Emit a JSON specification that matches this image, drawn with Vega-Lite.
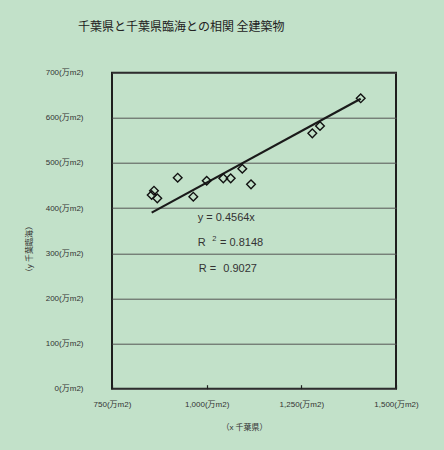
{
  "$schema": "https://vega.github.io/schema/vega-lite/v6.json",
  "width": 284,
  "height": 316,
  "autosize": {"type": "none"},
  "padding": {"left": 112, "top": 72.7, "right": 48, "bottom": 61.3},
  "background": "#c2e1c9",
  "config": {
    "view": {"stroke": "#1e1e1e", "strokeWidth": 2, "fill": "#c2e1c9"},
    "font": "'Liberation Sans', 'Noto Sans CJK JP', sans-serif"
  },
  "title": {
    "text": "千葉県と千葉県臨海との相関  全建築物",
    "anchor": "start",
    "frame": "group",
    "dx": -34,
    "offset": 30,
    "baseline": "middle",
    "fontSize": 12,
    "fontWeight": "normal",
    "color": "#222222",
    "font": "'Noto Sans CJK JP', sans-serif"
  },
  "datasets": {
    "pts": [
      {"x": 1406.8, "y": 643.3},
      {"x": 1299.3, "y": 581.9},
      {"x": 1279.0, "y": 565.7},
      {"x": 1094.1, "y": 487.3},
      {"x": 1117.1, "y": 452.7},
      {"x": 1063.5, "y": 466.0},
      {"x": 1043.9, "y": 466.0},
      {"x": 1000.1, "y": 460.7},
      {"x": 923.5, "y": 467.4},
      {"x": 964.7, "y": 425.3},
      {"x": 860.9, "y": 438.6},
      {"x": 854.8, "y": 429.0},
      {"x": 869.6, "y": 421.7}
    ],
    "trend": [
      {"x": 854.8, "y": 390.1},
      {"x": 1406.8, "y": 642.1}
    ],
    "notes": [
      {"x": 976.3, "y": 378.8, "label": "y = 0.4564x"},
      {"x": 976.3, "y": 322.0, "label": "R"},
      {"x": 1035.2, "y": 322.0, "label": "= 0.8148"},
      {"x": 979.0, "y": 265.1, "label": "R ="},
      {"x": 1044.0, "y": 265.1, "label": "0.9027"}
    ],
    "sup": [
      {"x": 1014.9, "y": 330.9, "label": "2"}
    ]
  },
  "layer": [
    {
      "data": {"name": "trend"},
      "mark": {"type": "line", "color": "#1a1a1a", "strokeWidth": 2.2},
      "encoding": {
        "x": {
          "field": "x", "type": "quantitative",
          "scale": {"domain": [750, 1500], "nice": false, "zero": false},
          "axis": {
            "values": [750, 1000, 1250, 1500],
            "labelExpr": "format(datum.value, ',') + '(万m2)'",
            "grid": false,
            "domain": false,
            "ticks": true,
            "tickSize": -4,
            "tickColor": "#222222",
            "tickWidth": 1.2,
            "labelPadding": 16,
            "labelFontSize": 8,
            "labelColor": "#333333",
            "labelDx": -10,
            "labelOverlap": false,
            "labelFlush": false,
            "title": "（x 千葉県）",
            "titleFontSize": 8,
            "titleFontWeight": "normal",
            "titleColor": "#333333",
            "titleX": 132,
            "titleY": 38.5,
            "titleBaseline": "middle",
            "titleAlign": "center"
          }
        },
        "y": {
          "field": "y", "type": "quantitative",
          "scale": {"domain": [0, 700], "nice": false, "zero": false},
          "axis": {
            "values": [0, 100, 200, 300, 400, 500, 600, 700],
            "labelExpr": "format(datum.value, ',') + '(万m2)'",
            "grid": true,
            "gridColor": "#555555",
            "gridWidth": 1,
            "gridOpacity": 1,
            "domain": false,
            "ticks": false,
            "labelPadding": 29,
            "labelFontSize": 8,
            "labelColor": "#333333",
            "labelOverlap": false,
            "labelFlush": false,
            "title": "（y 千葉臨海）",
            "titleFontSize": 8,
            "titleFontWeight": "normal",
            "titleColor": "#333333",
            "titleX": -83,
            "titleY": 176,
            "titleAngle": -90,
            "titleBaseline": "middle",
            "titleAlign": "center"
          }
        }
      }
    },
    {
      "data": {"name": "pts"},
      "mark": {"type": "point", "shape": "diamond", "filled": false, "stroke": "#111111", "strokeWidth": 1.4, "size": 75, "opacity": 1},
      "encoding": {
        "x": {"field": "x", "type": "quantitative"},
        "y": {"field": "y", "type": "quantitative"}
      }
    },
    {
      "data": {"name": "notes"},
      "mark": {"type": "text", "align": "left", "baseline": "middle", "fontSize": 11, "color": "#333333"},
      "encoding": {
        "x": {"field": "x", "type": "quantitative"},
        "y": {"field": "y", "type": "quantitative"},
        "text": {"field": "label"}
      }
    },
    {
      "data": {"name": "sup"},
      "mark": {"type": "text", "align": "left", "baseline": "middle", "fontSize": 7.5, "color": "#333333"},
      "encoding": {
        "x": {"field": "x", "type": "quantitative"},
        "y": {"field": "y", "type": "quantitative"},
        "text": {"field": "label"}
      }
    }
  ]
}
